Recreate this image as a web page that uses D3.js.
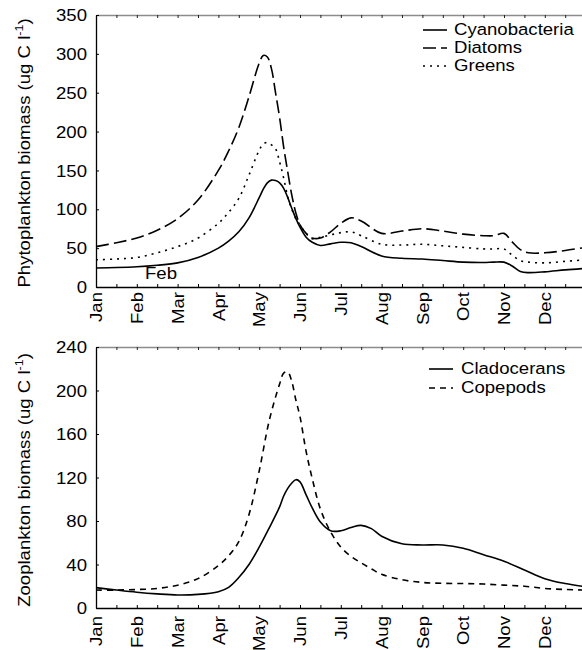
<!DOCTYPE html>
<html>
<head>
<meta charset="utf-8">
<script src="https://cdn.jsdelivr.net/npm/d3@7"></script>
<style>
    body { margin: 0; background: #fff; }
    svg text {
        font-family: "Liberation Sans", Arial, Helvetica, sans-serif;
        font-size: 16.3px;
        fill: #000;
    }
</style>
</head>
<body>
<div id="chart"></div>
<script>
// month labels on the x axis (time is in months, 0 = 1 Jan)
const months = ['Jan', 'Feb', 'Mar', 'Apr', 'May', 'Jun', 'Jul', 'Aug', 'Sep', 'Oct', 'Nov', 'Dec'];

// phytoplankton panel
const phytoTicks = [0, 50, 100, 150, 200, 250, 300, 350];
const phytoTime = [0, 0.5, 1, 1.5, 2, 2.5, 3, 3.25, 3.5, 3.75, 4, 4.1, 4.2, 4.3, 4.4, 4.5, 4.6, 4.7, 4.8, 4.9,
    5, 5.15, 5.3, 5.5, 5.75, 6, 6.25, 6.5, 7, 7.5, 8, 8.5, 9, 9.5, 9.75, 10, 10.2, 10.4, 10.6, 11, 11.5, 12];
const cyanobacteria = [24.5, 25, 26, 28, 31, 38, 50, 59, 71, 89, 115, 126, 134, 137.5, 137, 134, 127, 115, 101, 88,
    77, 64, 57.5, 53.5, 55.5, 57.5, 57, 52, 40, 37, 36, 34, 32, 31.5, 32, 32, 27, 20, 18.5, 19.5, 22, 24];
const diatoms = [52, 57, 63, 73, 88, 112, 150, 175, 205, 245, 288, 298, 296, 281, 250, 218, 180, 148, 118, 95,
    80, 69, 63, 63, 71, 82, 89, 85, 69, 72, 75, 72, 68, 66, 66, 69, 58, 48, 44, 44, 47, 51];
const greens = [35, 36, 38, 44, 52, 63, 82, 96, 114, 144, 176, 184, 186, 183, 178, 161, 140, 116, 100, 88,
    80, 69, 62, 64, 67, 70, 71, 66, 55, 54, 55, 53, 51, 49, 49, 49, 41, 34, 32, 31, 33, 35];

// zooplankton panel
const zooTicks = [0, 40, 80, 120, 160, 200, 240];
const zooTime = [0, 0.5, 1, 1.5, 2, 2.5, 3, 3.25, 3.5, 3.75, 4, 4.25, 4.5, 4.6, 4.7, 4.8, 4.9, 5, 5.15, 5.3,
    5.5, 5.75, 6, 6.25, 6.5, 6.75, 7, 7.5, 8, 8.5, 9, 9.5, 10, 10.5, 11, 11.5, 12];
const cladocerans = [18.7, 16.5, 14.5, 13, 12, 12.5, 15, 19, 28, 40, 56, 74, 93, 103, 110, 115, 118, 116, 104, 92,
    79, 71, 71, 74, 76, 73, 66, 59, 58, 58, 55, 49, 43, 35, 27, 22.5, 19.5];
const copepods = [16.5, 16.5, 17, 18, 21, 27, 39, 48, 61, 86, 126, 173, 206, 216, 217, 208, 191, 176, 144, 119,
    91, 70, 56, 47.5, 41.5, 36, 31, 26, 23.5, 22.7, 22.5, 22, 21, 20, 18, 17, 16.5];

const width = 582;
const height = 650;
const stretch = 1.14;   // the original lettering is a bit wider than Liberation Sans

class SeasonPanel {
    constructor(options) {
        this.svg = options.svg;
        this.left = options.left;
        this.right = options.right;
        this.top = options.top;
        this.bottom = options.bottom;
        this.yMax = options.yMax;
        this.yTicks = options.yTicks;
        this.time = options.time;
        this.series = options.series;
        this.legend = options.legend;
        this.title = options.title;
        this.titleY = options.titleY;
        this.labelGap = options.labelGap;
        this.note = options.note;
    }

    render() {
        this.g = this.svg.append('g');

        this.x = d3.scaleLinear()
            .domain([0, 12])
            .range([this.left, this.right]);

        this.y = d3.scaleLinear()
            .domain([0, this.yMax])
            .range([this.bottom, this.top]);

        this.drawAxes();
        this.drawLines();
        this.drawLegend();
        this.drawTitle();
        if (this.note) this.drawNote();
    }

    drawAxes() {
        const halfMonths = d3.range(0, 12, 0.5);

        // top border, grey, with small inward ticks
        const topAxis = this.g.append('g')
            .attr('transform', `translate(0,${this.top})`)
            .call(d3.axisTop(this.x).tickValues(halfMonths).tickSizeInner(-3).tickSizeOuter(0).tickFormat(''));
        topAxis.select('.domain').attr('stroke', '#8c8c8c').attr('stroke-width', 1.6);
        topAxis.selectAll('.tick line').attr('stroke', '#222');

        // x axis with rotated month names
        const xAxis = this.g.append('g')
            .attr('transform', `translate(0,${this.bottom})`)
            .call(d3.axisBottom(this.x)
                .tickValues(halfMonths)
                .tickSizeInner(-3)
                .tickSizeOuter(0)
                .tickFormat(d => Number.isInteger(d) ? months[d] : ''));
        xAxis.select('.domain').attr('stroke-width', 1.3);
        xAxis.selectAll('text')
            .attr('x', null)
            .attr('y', null)
            .attr('dy', '0.35em')
            .attr('text-anchor', 'end')
            .attr('transform', `translate(0,${this.labelGap}) rotate(-90) scale(${stretch},1)`);

        // y axis
        const yAxis = this.g.append('g')
            .attr('transform', `translate(${this.left},0)`)
            .call(d3.axisLeft(this.y).tickValues(this.yTicks).tickSizeInner(-3).tickSizeOuter(0));
        yAxis.select('.domain').attr('stroke-width', 1.3);
        yAxis.selectAll('text')
            .attr('x', null)
            .attr('dy', '0.35em')
            .attr('transform', `translate(-9,0) scale(${stretch},1)`);
    }

    drawLines() {
        const line = d3.line()
            .x((d, i) => this.x(this.time[i]))
            .y(d => this.y(d))
            .curve(d3.curveCatmullRom.alpha(0.5));

        this.series.forEach(s => {
            this.g.append('path')
                .datum(s.values)
                .attr('fill', 'none')
                .attr('stroke', '#000')
                .attr('stroke-width', 1.6)
                .attr('stroke-dasharray', s.dash)
                .attr('d', line);
        });
    }

    drawLegend() {
        const lg = this.legend;
        const legend = this.g.append('g')
            .attr('transform', `translate(${lg.x},${lg.y})`);

        this.series.forEach((s, i) => {
            const row = legend.append('g')
                .attr('transform', `translate(0,${i * lg.step})`);

            row.append('line')
                .attr('x1', 0)
                .attr('x2', lg.len)
                .attr('y1', 0)
                .attr('y2', 0)
                .attr('stroke', '#000')
                .attr('stroke-width', 1.6)
                .attr('stroke-dasharray', s.dash);

            row.append('text')
                .attr('transform', `translate(${lg.textX},5) scale(${stretch},1)`)
                .text(s.name);
        });
    }

    drawTitle() {
        const t = this.g.append('text')
            .attr('text-anchor', 'middle')
            .attr('transform', `translate(30,${this.titleY}) rotate(-90) scale(${stretch},1)`);
        t.append('tspan').text(this.title + ' (ug C l');
        t.append('tspan').attr('dy', -7).style('font-size', '11px').text('-1');
        t.append('tspan').attr('dy', 7).text(')');
    }

    drawNote() {
        this.g.append('text')
            .attr('transform', `translate(${this.note.x},${this.note.y}) scale(${stretch},1)`)
            .text(this.note.text);
    }
}

const svg = d3.select('#chart')
    .append('svg')
    .attr('width', width)
    .attr('height', height);

new SeasonPanel({
    svg,
    left: 96, right: 585.6, top: 15, bottom: 287,
    yMax: 350, yTicks: phytoTicks,
    time: phytoTime,
    series: [
        {name: 'Cyanobacteria', values: cyanobacteria, dash: null},
        {name: 'Diatoms', values: diatoms, dash: '13,5'},
        {name: 'Greens', values: greens, dash: '2,5'}
    ],
    legend: {x: 423, y: 30, step: 18, len: 24, textX: 31},
    title: 'Phytoplankton biomass',
    titleY: 153,
    labelGap: 5,
    note: {x: 145, y: 279, text: 'Feb'}
}).render();

new SeasonPanel({
    svg,
    left: 96, right: 585.6, top: 347, bottom: 608,
    yMax: 240, yTicks: zooTicks,
    time: zooTime,
    series: [
        {name: 'Cladocerans', values: cladocerans, dash: null},
        {name: 'Copepods', values: copepods, dash: '6,5'}
    ],
    legend: {x: 429, y: 369, step: 19, len: 24, textX: 32},
    title: 'Zooplankton biomass',
    titleY: 480,
    labelGap: 8
}).render();
</script>
</body>
</html>
